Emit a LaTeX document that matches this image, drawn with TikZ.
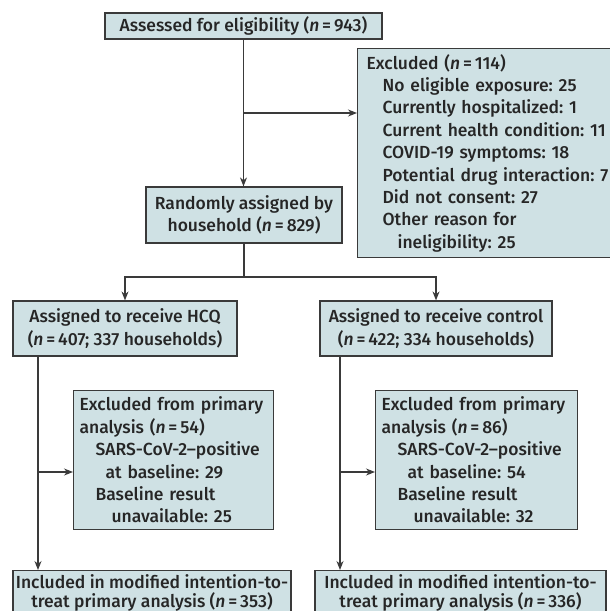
\documentclass[tikz,border=0pt]{standalone}
\usepackage{fontspec}
\setmainfont{Fira Sans}[UprightFont=* Medium, ItalicFont=* Medium Italic]
\usetikzlibrary{arrows.meta}
\definecolor{boxfill}{HTML}{CFE1E4}
\definecolor{boxline}{HTML}{3A3A3A}
\frenchspacing

\begin{document}
\begin{tikzpicture}[
		x=1pt, y=-1pt,
		>={Stealth[length=9pt,width=7pt]},
		every node/.style={font=\fontsize{17.5}{22.4}\selectfont, text=black!85},
		box/.style={rectangle, draw=boxline, fill=boxfill, line width=1.2pt, inner sep=0pt},
		listbox/.style={box, anchor=north west, align=left, inner xsep=7pt},
		endbox/.style={box, anchor=north, align=center, inner xsep=0pt, inner ysep=4pt,
			text depth=15pt, font=\fontsize{17.5}{19}\selectfont},
		link/.style={draw=boxline, line width=1.1pt}
		]
		\useasboundingbox (0,0) rectangle (610,611);
		\clip (0,0) rectangle (610,611);
		% top of the flow
		\node[box, minimum width=277pt, minimum height=26pt] (elig) at (243.5,26)
			{Assessed for eligibility (\textit{n}\,=\,943)};
		\node[listbox, inner xsep=9pt, minimum width=290pt, minimum height=209pt, text width=272pt] (excl) at (357,48)
			{Excluded (\textit{n}\,=\,114)\\
			\hspace*{16pt}No eligible exposure: 25\\
			\hspace*{16pt}Currently hospitalized: 1\\
			\hspace*{16pt}Current health condition: 11\\
			\hspace*{16pt}COVID-19 symptoms: 18\\
			\hspace*{16pt}Potential drug interaction: 7\\
			\hspace*{16pt}Did not consent: 27\\
			\hspace*{16pt}Other reason for\\
			\hspace*{31pt}ineligibility: 25};
		\node[box, minimum width=196pt, minimum height=56pt, align=center] (rand) at (244,215)
			{Randomly assigned by\\household (\textit{n}\,=\,829)};
		% the two arms
		\node[box, minimum width=224pt, minimum height=55pt, align=center] (hcq) at (125,328.5)
			{Assigned to receive HCQ\\(\textit{n}\,=\,407; 337 households)};
		\node[box, minimum width=232pt, minimum height=55pt, align=center] (ctrl) at (436,328.5)
			{Assigned to receive control\\(\textit{n}\,=\,422; 334 households)};
		\node[listbox, inner xsep=6pt, minimum width=200pt, minimum height=139pt, text width=188pt] (exA) at (73,390)
			{Excluded from primary\\
			analysis (\textit{n}\,=\,54)\\
			\hspace*{16pt}SARS-CoV-2--positive\\
			\hspace*{26pt}at baseline: 29\\
			\hspace*{16pt}Baseline result\\
			\hspace*{32pt}unavailable: 25};
		\node[listbox, inner xsep=6pt, minimum width=202pt, minimum height=139pt, text width=190pt] (exB) at (375,390)
			{Excluded from primary\\
			analysis (\textit{n}\,=\,86)\\
			\hspace*{16pt}SARS-CoV-2--positive\\
			\hspace*{26pt}at baseline: 54\\
			\hspace*{16pt}Baseline result\\
			\hspace*{32pt}unavailable: 32};
		\node[endbox, minimum width=278pt] (incA) at (152,570)
			{Included in modified intention-to-\\treat primary analysis (\textit{n}\,=\,353)};
		\node[endbox, minimum width=291pt] (incB) at (460.5,570)
			{Included in modified intention-to-\\treat primary analysis (\textit{n}\,=\,336)};
		% connectors
		\coordinate (outX) at (243.5,113);
		\coordinate (split) at (244,277);
		\coordinate (lineA) at (38,472);
		\coordinate (lineB) at (340,472);
		\draw[link,->] (elig.south) -- (elig.south |- rand.north);
		\draw[link,->] (outX) -- (outX -| excl.west);
		\draw[link] (rand.south) -- (split);
		\draw[link,->] (split) -| (hcq.north);
		\draw[link,->] (split) -| (ctrl.north);
		\draw[link,->] (lineA |- hcq.south) -- (lineA |- incA.north);
		\draw[link,->] (lineA) -- (lineA -| exA.west);
		\draw[link,->] (lineB |- ctrl.south) -- (lineB |- incB.north);
		\draw[link,->] (lineB) -- (lineB -| exB.west);
\end{tikzpicture}
\end{document}
